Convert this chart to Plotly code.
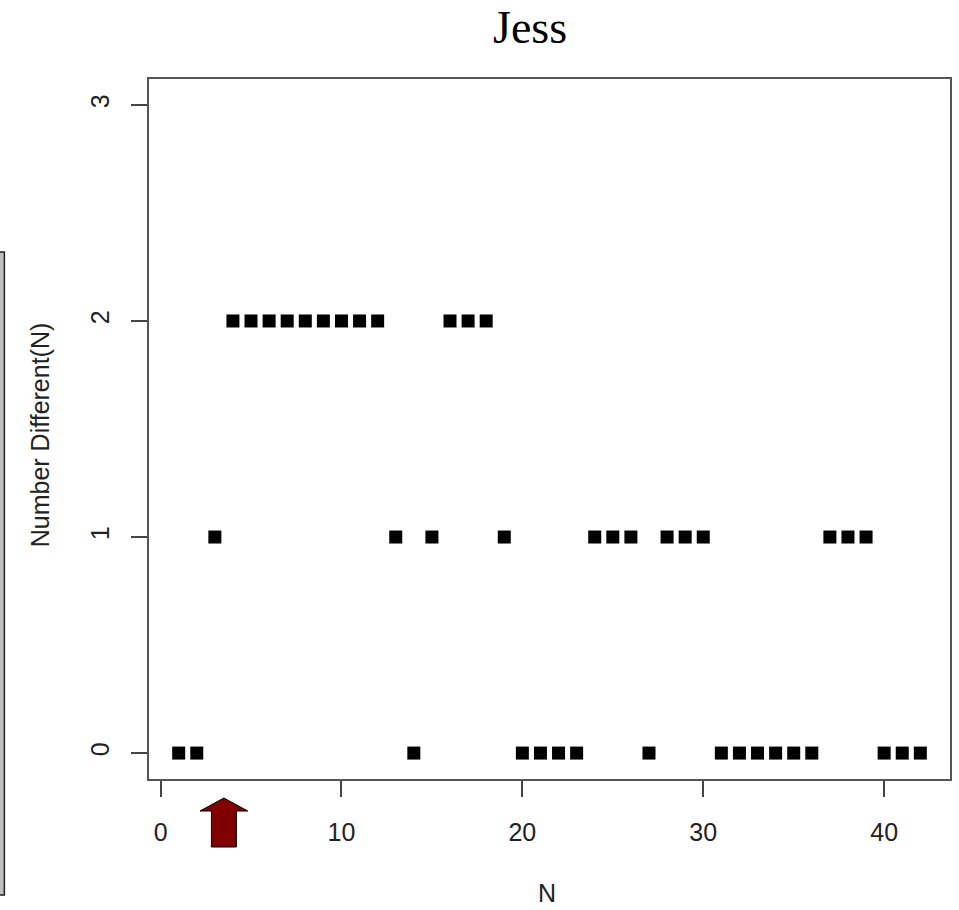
import plotly.graph_objects as go

n_values = list(range(1, 43))
number_different = [0, 0, 1, 2, 2, 2, 2, 2, 2, 2, 2, 2, 1, 0, 1, 2, 2, 2, 1, 0,
                    0, 0, 0, 1, 1, 1, 0, 1, 1, 1, 0, 0, 0, 0, 0, 0, 1, 1, 1, 0,
                    0, 0]
x_ticks = [0, 10, 20, 30, 40]
y_ticks = [0, 1, 2, 3]
arrow_x = 3.5
title_text = "Jess"

W, H = 959, 910
L, R, T, B = 149, 7, 79, 131
pw, ph = W - L - R, H - T - B

def px_x(p):
    return (p - L) / pw

def px_y(p):
    return (H - B - p) / ph

fig = go.Figure()
fig.add_trace(go.Scatter(
    x=n_values, y=number_different, mode="markers",
    marker=dict(symbol="square", size=13, color="black", line=dict(width=0)),
    showlegend=False, hoverinfo="x+y"))

axis_font = dict(family="Liberation Sans, Arial, sans-serif", size=25, color="#222")

fig.update_layout(
    width=W, height=H,
    margin=dict(l=L, r=R, t=T, b=B),
    paper_bgcolor="white", plot_bgcolor="white",
    xaxis=dict(range=[-0.64, 43.64], tickvals=x_ticks, ticks="outside", ticklen=16,
               tickwidth=1.5, tickcolor="#444", showgrid=False, zeroline=False,
               showline=True, mirror=True, linecolor="#555", linewidth=2,
               tickfont=axis_font, ticklabelstandoff=14),
    yaxis=dict(range=[-0.12, 3.12], tickvals=y_ticks, ticks="outside", ticklen=16,
               tickwidth=1.5, tickcolor="#444", showgrid=False, zeroline=False,
               showline=True, mirror=True, linecolor="#555", linewidth=2,
               tickfont=axis_font, tickangle=-90, ticklabelstandoff=12),
)

fig.add_annotation(text=title_text, x=px_x(531), y=px_y(28), xref="paper", yref="paper",
                   showarrow=False, xanchor="center", yanchor="middle",
                   font=dict(family="Liberation Serif, Times New Roman, serif", size=46, color="black"))
fig.add_annotation(text="N", x=px_x(548), y=px_y(893), xref="paper", yref="paper",
                   showarrow=False, xanchor="center", yanchor="middle", font=axis_font)
fig.add_annotation(text="Number Different(N)", x=px_x(40), y=px_y(435), xref="paper", yref="paper",
                   showarrow=False, xanchor="center", yanchor="middle", textangle=-90, font=axis_font)

# red arrow below axis
hw, sw = 1.32, 0.69
yt, yh, yb = px_y(798), px_y(811), px_y(847)
path = (f"M {arrow_x} {yt} L {arrow_x + hw} {yh} L {arrow_x + sw} {yh} L {arrow_x + sw} {yb} "
        f"L {arrow_x - sw} {yb} L {arrow_x - sw} {yh} L {arrow_x - hw} {yh} Z")
fig.add_shape(type="path", path=path, xref="x", yref="paper",
              fillcolor="#800000", line=dict(color="black", width=1))

# partial gray panel at left edge
fig.add_shape(type="rect", xref="paper", yref="paper",
              x0=px_x(-2), x1=px_x(4), y0=px_y(895), y1=px_y(252),
              fillcolor="#c0c0c0", line=dict(color="#222", width=1.5))

fig.write_html("out.html", config={"displayModeBar": False},
               post_script="document.body.style.margin='0px';")
